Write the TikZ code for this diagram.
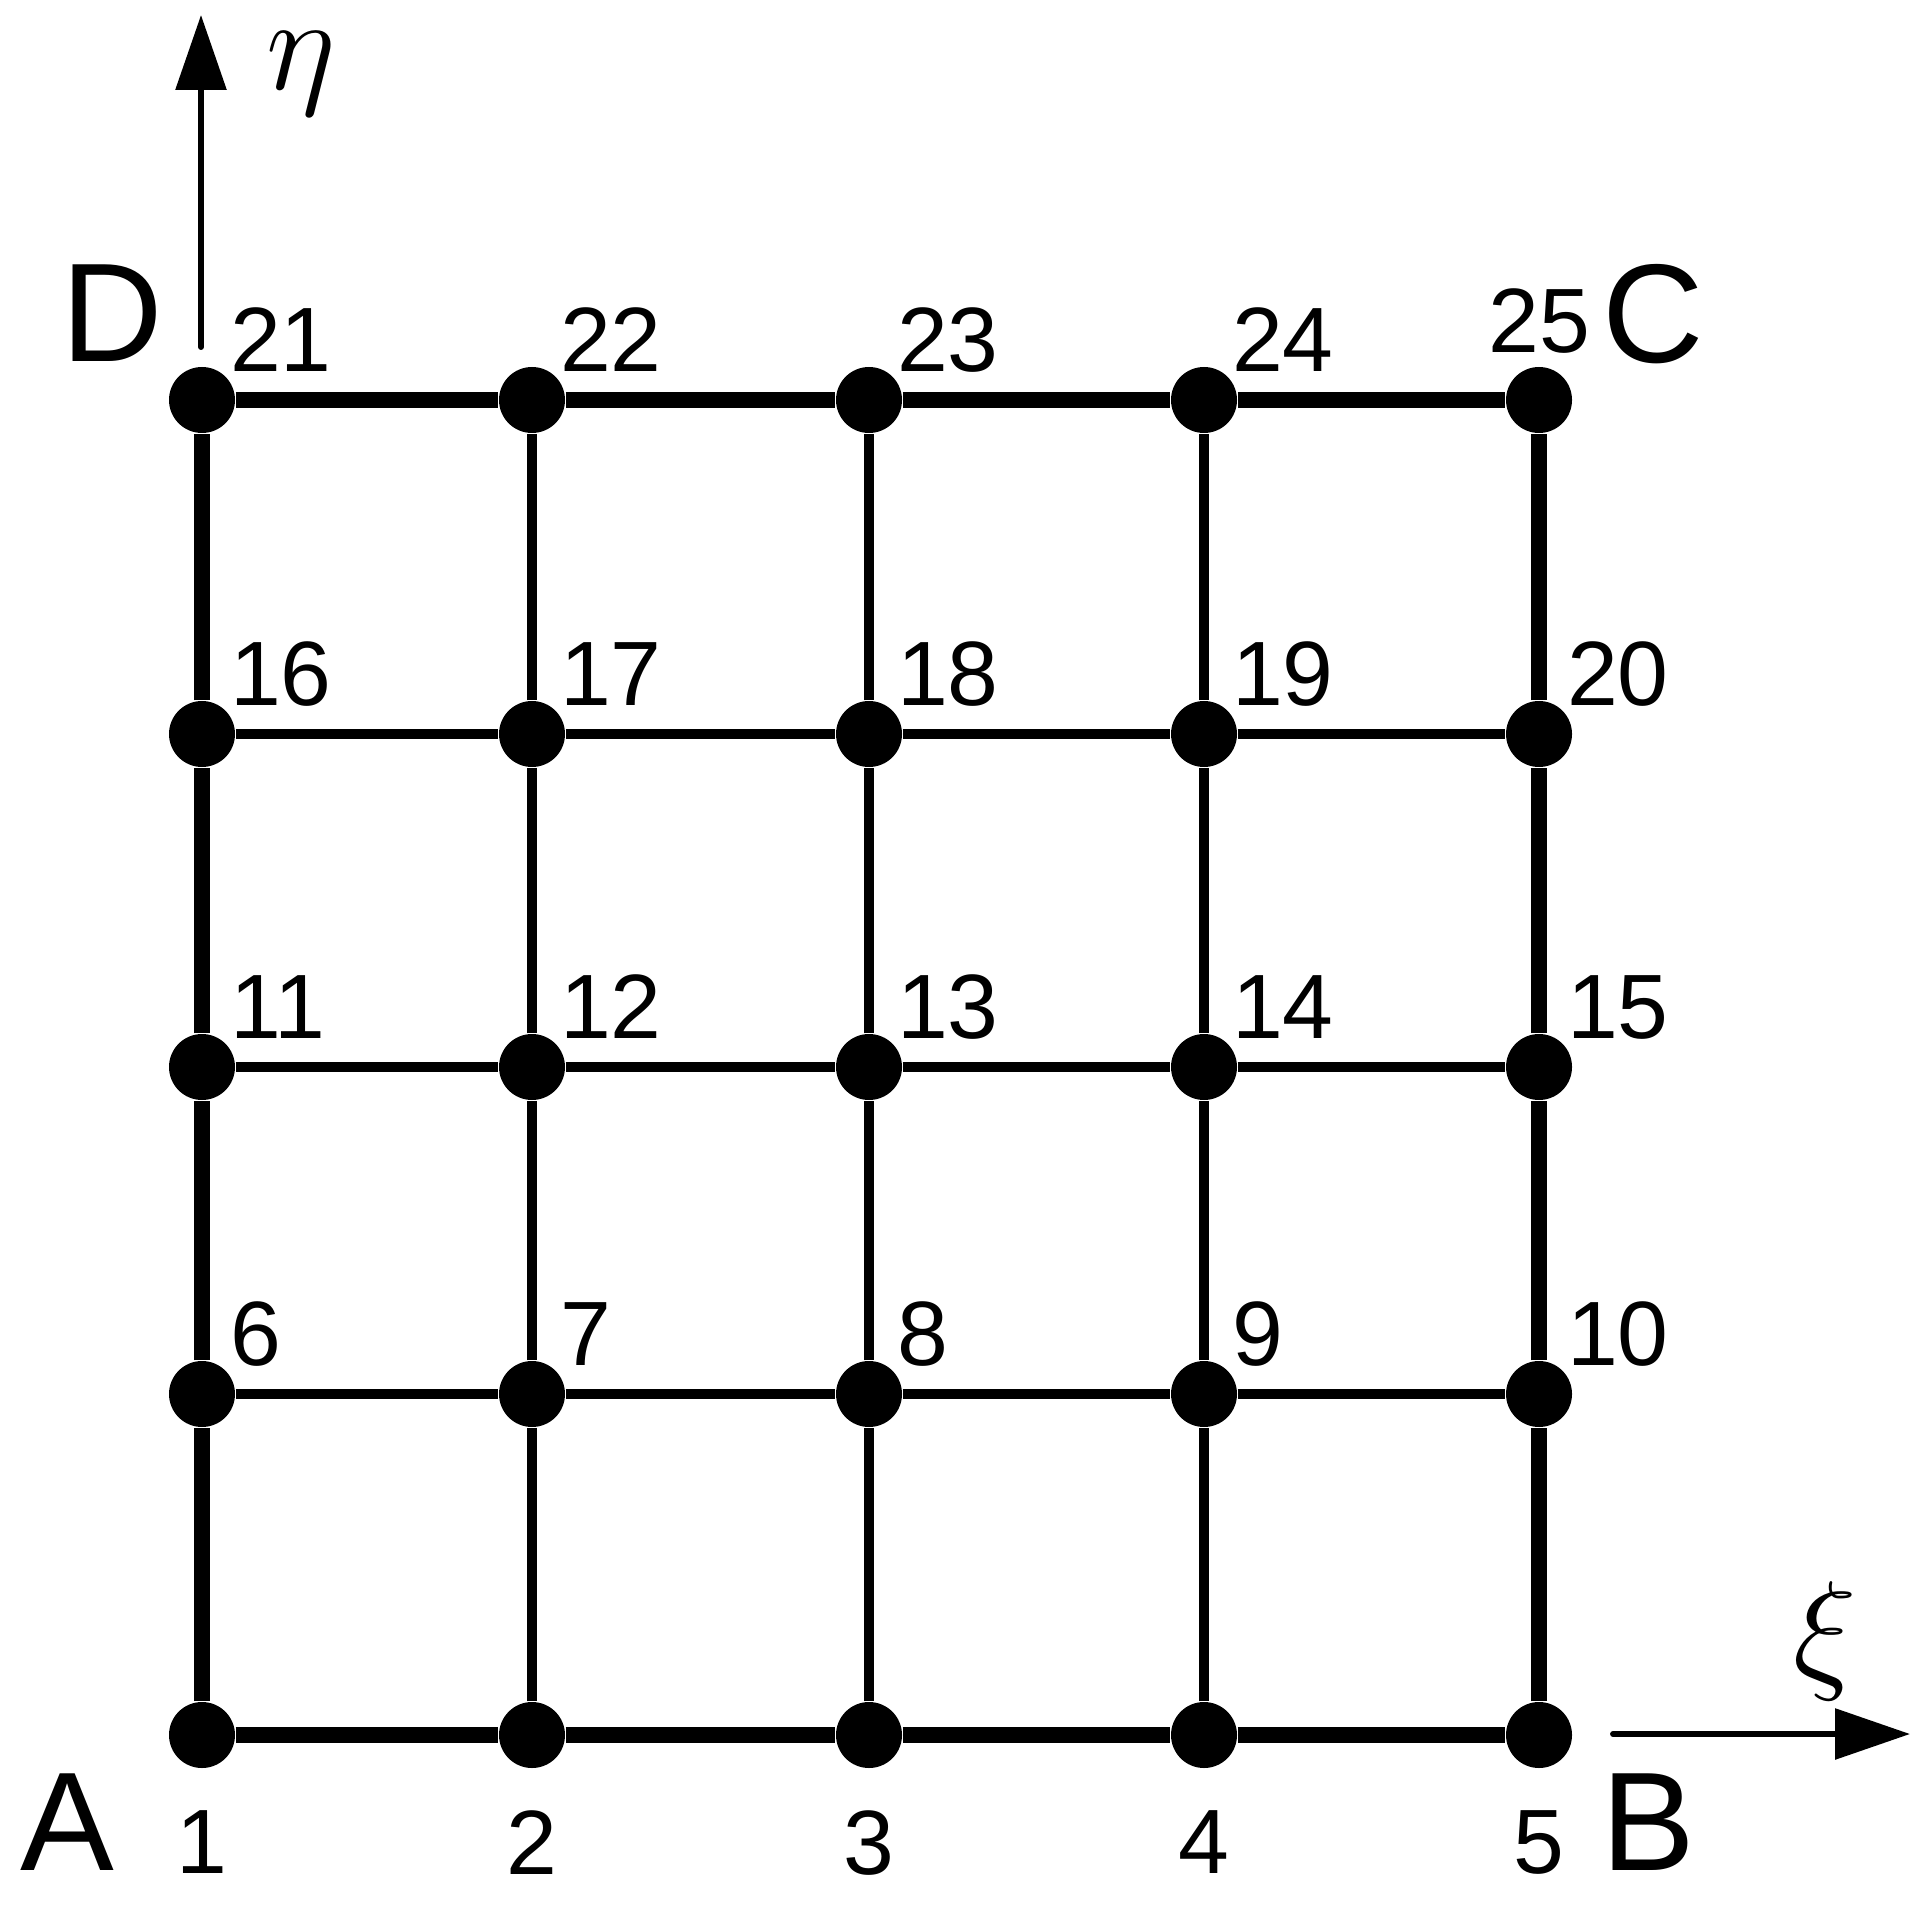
\RequirePackage{fix-cm}
\documentclass[tikz,border=0pt]{standalone}
\usepackage{amsmath}
\usepackage{fontspec}
\setmainfont{Liberation Sans}
\usepackage{tikz}
\usetikzlibrary{arrows.meta}

\tikzset{
  dot/.style={circle, fill=black, draw=none, minimum size=0.66cm, inner sep=0pt},
  num/.style={font=\fontsize{26}{28}\selectfont, inner sep=0pt, label distance=0.05cm},
  corner/.style={font=\fontsize{40}{44}\selectfont, inner sep=0pt},
  greek/.style={font=\fontsize{38}{40}\selectfont, inner sep=0pt},
  inner line/.style={line width=2.8pt},
  rim line/.style={line width=4.5pt},
  axis/.style={line width=1.7pt, line cap=round, -{Triangle[length=0.75cm,width=0.5cm]}},
}

\begin{document}
\begin{tikzpicture}
        \useasboundingbox (0,0) rectangle (19.29,19.10);
        % grid points
        \node[dot, label={[num,label distance=0.41cm]below:1}] (n1) at (2.02,1.75) {};
        \node[dot, label={[num,label distance=0.41cm]below:2}] (n2) at (5.32,1.75) {};
        \node[dot, label={[num,label distance=0.41cm]below:3}] (n3) at (8.69,1.75) {};
        \node[dot, label={[num,label distance=0.41cm]below:4}] (n4) at (12.04,1.75) {};
        \node[dot, label={[num,label distance=0.41cm]below:5}] (n5) at (15.39,1.75) {};
        \node[dot, label={[num]above right:6}] (n6) at (2.02,5.16) {};
        \node[dot, label={[num]above right:7}] (n7) at (5.32,5.16) {};
        \node[dot, label={[num]above right:8}] (n8) at (8.69,5.16) {};
        \node[dot, label={[num]above right:9}] (n9) at (12.04,5.16) {};
        \node[dot, label={[num]above right:10}] (n10) at (15.39,5.16) {};
        \node[dot, label={[num]above right:11}] (n11) at (2.02,8.43) {};
        \node[dot, label={[num]above right:12}] (n12) at (5.32,8.43) {};
        \node[dot, label={[num]above right:13}] (n13) at (8.69,8.43) {};
        \node[dot, label={[num]above right:14}] (n14) at (12.04,8.43) {};
        \node[dot, label={[num]above right:15}] (n15) at (15.39,8.43) {};
        \node[dot, label={[num]above right:16}] (n16) at (2.02,11.76) {};
        \node[dot, label={[num]above right:17}] (n17) at (5.32,11.76) {};
        \node[dot, label={[num]above right:18}] (n18) at (8.69,11.76) {};
        \node[dot, label={[num]above right:19}] (n19) at (12.04,11.76) {};
        \node[dot, label={[num]above right:20}] (n20) at (15.39,11.76) {};
        \node[dot, label={[num]above right:21}] (n21) at (2.02,15.10) {};
        \node[dot, label={[num]above right:22}] (n22) at (5.32,15.10) {};
        \node[dot, label={[num]above right:23}] (n23) at (8.69,15.10) {};
        \node[dot, label={[num]above right:24}] (n24) at (12.04,15.10) {};
        \node[dot, label={[num,label distance=0.12cm]above:25}] (n25) at (15.39,15.10) {};

        % inner lines
        \draw[inner line] (n6) -- (n7) -- (n8) -- (n9) -- (n10);
        \draw[inner line] (n11) -- (n12) -- (n13) -- (n14) -- (n15);
        \draw[inner line] (n16) -- (n17) -- (n18) -- (n19) -- (n20);
        \draw[inner line] (n2) -- (n7) -- (n12) -- (n17) -- (n22);
        \draw[inner line] (n3) -- (n8) -- (n13) -- (n18) -- (n23);
        \draw[inner line] (n4) -- (n9) -- (n14) -- (n19) -- (n24);
        % outer edge
        \draw[rim line] (n1) -- (n2) -- (n3) -- (n4) -- (n5);
        \draw[rim line] (n5) -- (n10) -- (n15) -- (n20) -- (n25);
        \draw[rim line] (n21) -- (n22) -- (n23) -- (n24) -- (n25);
        \draw[rim line] (n1) -- (n6) -- (n11) -- (n16) -- (n21);

        % corners
        \node[corner] (A) at (0.675,0.88) {A};
        \node[corner] (B) at (16.48,0.88) {B};
        \node[corner] (C) at (16.53,15.96) {C};
        \node[corner] (D) at (1.12,15.97) {D};

        % axes
        \coordinate (etastart) at (2.01,15.63);
        \coordinate (etaend) at (2.01,18.95);
        \draw[axis] (etastart) -- (etaend);
        \node[greek] (eta) at (3.01,18.36) {$\eta$};
        \coordinate (xistart) at (16.13,1.76);
        \coordinate (xiend) at (19.10,1.76);
        \draw[axis] (xistart) -- (xiend);
        \node[greek] (xi) at (18.25,2.69) {$\xi$};
\end{tikzpicture}
\end{document}
